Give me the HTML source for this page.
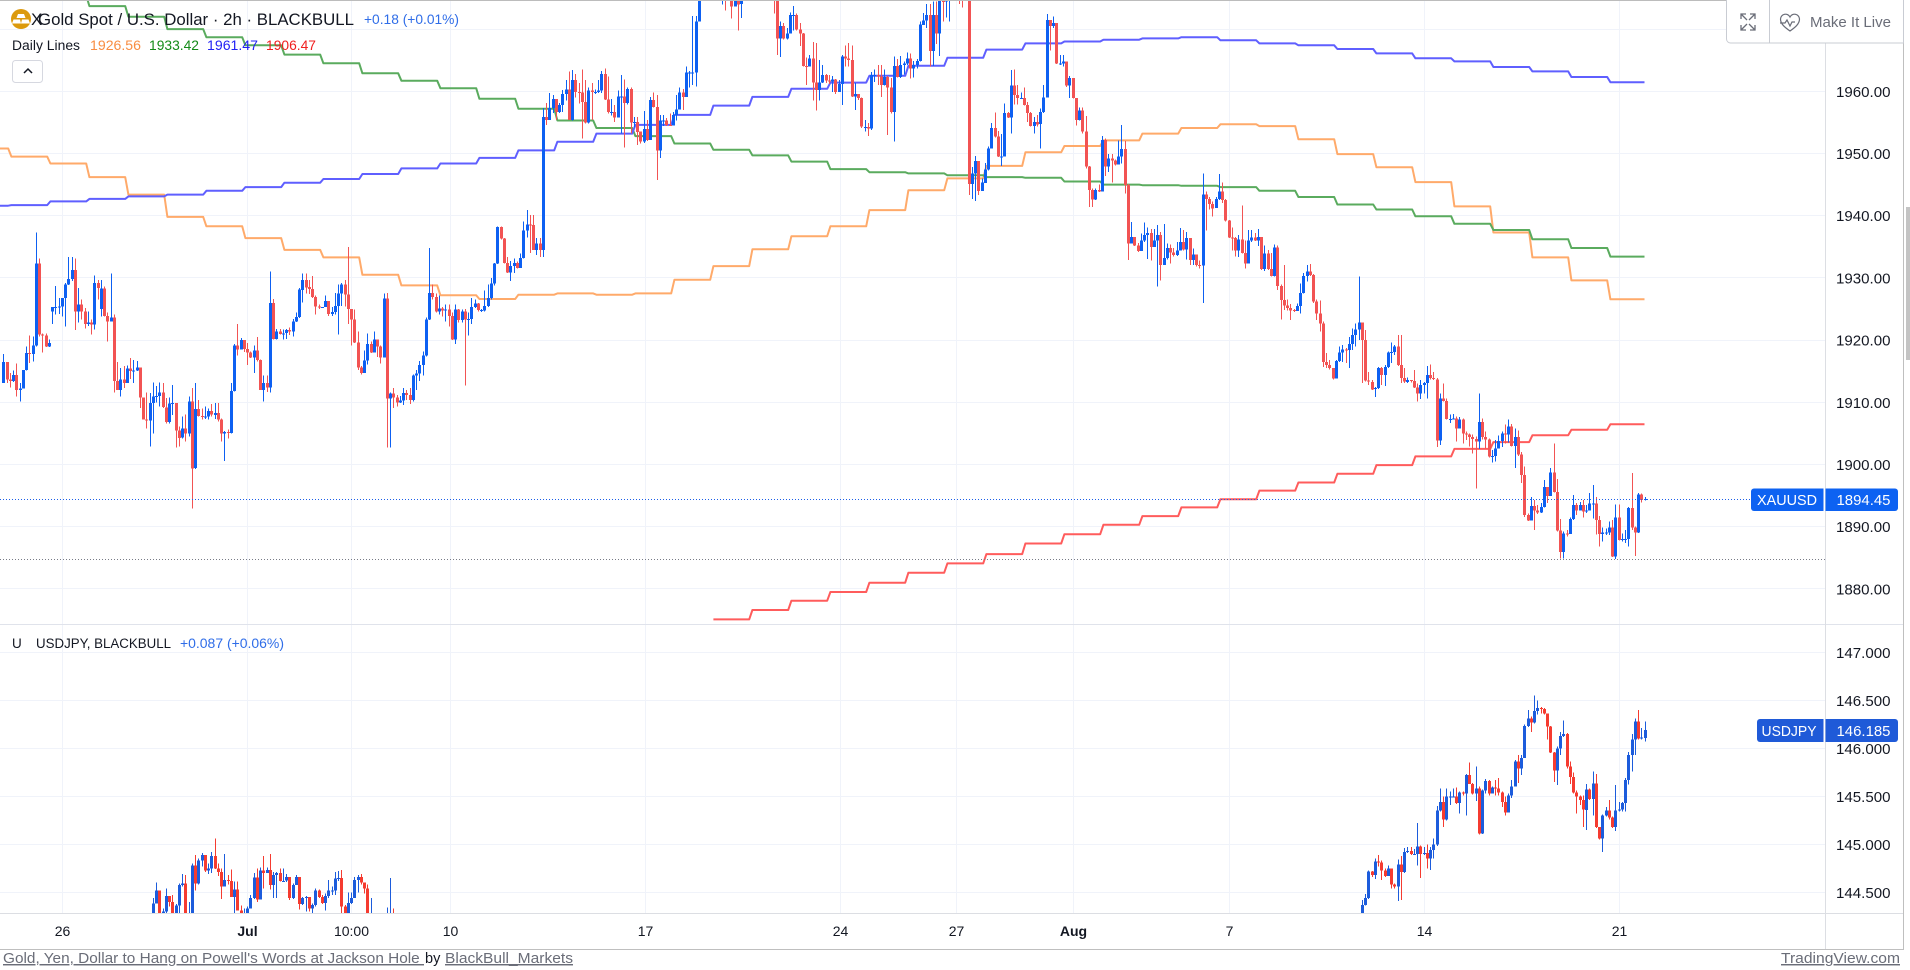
<!DOCTYPE html>
<html lang="en">
<head>
<meta charset="utf-8">
<title>Gold Spot / U.S. Dollar and USDJPY chart</title>
<style>
html,body{margin:0;padding:0;background:#fff;width:1910px;height:970px;overflow:hidden}
svg{display:block;font-family:"Liberation Sans",sans-serif}
text{white-space:pre}
</style>
</head>
<body>
<svg id="chart" xmlns="http://www.w3.org/2000/svg" width="1910" height="970" viewBox="0 0 1910 970">
  <defs>
    <clipPath id="clip-main"><rect x="0" y="0" width="1825" height="624"></rect></clipPath>
    <clipPath id="clip-sub"><rect x="0" y="625" width="1825" height="288"></rect></clipPath>
  </defs>
  <rect x="0" y="0" width="1910" height="970" fill="#ffffff"></rect>
  <g id="grid"></g>
  <g id="main-pane" clip-path="url(#clip-main)"></g>
  <g id="sub-pane" clip-path="url(#clip-sub)"></g>
  <g id="axis-labels"></g>

  <line x1="0" y1="499.5" x2="1751" y2="499.5" stroke="#1c5fe8" stroke-width="1" stroke-dasharray="1 2"></line>
  <line x1="0" y1="559.5" x2="1825" y2="559.5" stroke="#787b86" stroke-width="1" stroke-dasharray="1 2"></line>

  <line x1="0" y1="0.5" x2="1904" y2="0.5" stroke="#bcbcbc"></line>
  <line x1="0" y1="624.5" x2="1903" y2="624.5" stroke="#e0e3eb"></line>
  <line x1="0" y1="913.5" x2="1903" y2="913.5" stroke="#dcdee3"></line>
  <line x1="1825.5" y1="43" x2="1825.5" y2="949" stroke="#dcdee3"></line>
  <line x1="0" y1="949.5" x2="1904" y2="949.5" stroke="#bfbfbf"></line>
  <line x1="1903.5" y1="0" x2="1903.5" y2="950" stroke="#bfbfbf"></line>
  <rect x="1906" y="207" width="4" height="153" fill="#c4c4c4"></rect>

  <!-- main legend -->
  <g>
    <circle cx="21" cy="19" r="10" fill="#dc9a0d"></circle>
    <path d="M18 14h6l1.5 4h-9zM13.5 19.5h6.5l1 4h-9zM22 19.5h6.5l1.5 4h-9z" fill="#ffffff"></path>
    <text x="31" y="25" font-size="17" fill="#131722">X</text>
    <text x="38" y="25" font-size="17" fill="#131722" textLength="316" lengthAdjust="spacingAndGlyphs">Gold Spot / U.S. Dollar · 2h · BLACKBULL</text>
    <text x="364" y="24" font-size="14" fill="#2f6de8" textLength="95" lengthAdjust="spacingAndGlyphs">+0.18 (+0.01%)</text>
    <text x="12" y="50" font-size="13.5" fill="#131722" textLength="68" lengthAdjust="spacingAndGlyphs">Daily Lines</text>
    <text x="90" y="50" font-size="13.5" fill="#f88d42" textLength="51" lengthAdjust="spacingAndGlyphs">1926.56</text>
    <text x="149" y="50" font-size="13.5" fill="#138a17" textLength="50" lengthAdjust="spacingAndGlyphs">1933.42</text>
    <text x="207" y="50" font-size="13.5" fill="#2222f5" textLength="51" lengthAdjust="spacingAndGlyphs">1961.47</text>
    <text x="266" y="50" font-size="13.5" fill="#f01f1f" textLength="50" lengthAdjust="spacingAndGlyphs">1906.47</text>
    <rect x="12.5" y="60.5" width="30" height="22" rx="3" fill="#ffffff" stroke="#d6d8e0"></rect>
    <path d="M24 73l4-4 4 4" fill="none" stroke="#131722" stroke-width="1.5"></path>
  </g>

  <!-- sub legend -->
  <g>
    <text x="12" y="648" font-size="13.5" fill="#131722">U</text>
    <text x="36" y="648" font-size="13.5" fill="#131722" textLength="135" lengthAdjust="spacingAndGlyphs">USDJPY, BLACKBULL</text>
    <text x="180" y="648" font-size="13.5" fill="#2f6de8" textLength="104" lengthAdjust="spacingAndGlyphs">+0.087 (+0.06%)</text>
  </g>

  <!-- top right toolbar -->
  <g>
    <path d="M1726.5 0V39a4 4 0 0 0 4 4H1903.5V0" fill="#ffffff" stroke="#c9ccd3"></path>
    <line x1="1769.5" y1="0" x2="1769.5" y2="43" stroke="#c9ccd3"></line>
    <g fill="none" stroke="#6a6d78" stroke-width="1.3">
      <path d="M1741 19v-5h5M1741 14l6 6M1755 19v-5h-5M1755 14l-6 6M1741 25v5h5M1741 30l6-6M1755 25v5h-5M1755 30l-6-6"></path>
    </g>
    <g>
      <path d="M1790 31c-5-3.500-9.500-7-9.500-12a5 5 0 0 1 9.500-2a5 5 0 0 1 9.500 2c0 5-4.500 8.500-9.500 12zM1780 23h5l2-3 3 6 2-4h3" fill="none" stroke="#6a6d78" stroke-width="1.2"></path>
      <text x="1810" y="27" font-size="14.500" fill="#6a6d78" textLength="81" lengthAdjust="spacingAndGlyphs">Make It Live</text>
    </g>
  </g>

  <!-- last price tags -->
  <g>
    <path d="M1754 488.500H1823.500V511H1754a3 3 0 0 1-3-3V491.500a3 3 0 0 1 3-3z" fill="#0d62f2"></path>
    <text x="1757" y="505" font-size="14.500" fill="#ffffff" textLength="60" lengthAdjust="spacingAndGlyphs">XAUUSD</text>
    <path d="M1825.500 488.500H1895a3 3 0 0 1 3 3V508a3 3 0 0 1-3 3H1825.500z" fill="#0d62f2"></path>
    <text x="1836.500" y="505" font-size="14.500" fill="#ffffff" textLength="54" lengthAdjust="spacingAndGlyphs">1894.45</text>
  </g>
  <g>
    <path d="M1760 719H1823.500V742H1760a3 3 0 0 1-3-3V722a3 3 0 0 1 3-3z" fill="#1f5ad8"></path>
    <text x="1761.500" y="736" font-size="14.500" fill="#ffffff" textLength="55" lengthAdjust="spacingAndGlyphs">USDJPY</text>
    <path d="M1825.500 719H1895a3 3 0 0 1 3 3V739a3 3 0 0 1-3 3H1825.500z" fill="#1f5ad8"></path>
    <text x="1836.500" y="736" font-size="14.500" fill="#ffffff" textLength="54" lengthAdjust="spacingAndGlyphs">146.185</text>
  </g>

  <!-- footer -->
  <g>
    <text x="3" y="963" font-size="14.500" fill="#6a6d78" text-decoration="underline" textLength="421" lengthAdjust="spacingAndGlyphs">Gold, Yen, Dollar to Hang on Powell's Words at Jackson Hole </text>
    <text x="425" y="963" font-size="14.500" fill="#131722">by</text>
    <text x="445" y="963" font-size="14.500" fill="#6a6d78" text-decoration="underline" textLength="128" lengthAdjust="spacingAndGlyphs">BlackBull_Markets</text>
    <text x="1781" y="963" font-size="14.500" fill="#6a6d78" text-decoration="underline" textLength="119" lengthAdjust="spacingAndGlyphs">TradingView.com</text>
  </g>
</svg>

<script>
// ---------- Gold (XAUUSD) 2h candles ----------
const goldFirstOpen = 1913.1;
const goldCloses = [
1916.5,1913.7,1913.4,1914.4,1912.0,1912.2,1915.2,1917.9,1917.8,1919.1,
1932.3,1920.9,1920.7,1919.0,1919.5,1925.3,1925.3,1925.4,1926.8,1928.9,
1929.8,1931.3,1924.6,1925.7,1924.6,1922.6,1922.8,1922.5,1929.2,1928.4,
1928.3,1923.9,1923.0,1923.6,1913.4,1912.0,1913.7,1913.1,1915.4,1915.0,
1915.1,1915.6,1910.8,1907.2,1907.1,1909.9,1910.9,1911.0,1911.6,1909.2,
1906.8,1909.8,1909.9,1905.5,1904.3,1905.8,1905.0,1910.1,1899.4,1908.9,
1907.8,1907.6,1907.7,1908.6,1908.0,1908.3,1907.2,1905.0,1905.2,1905.1,
1911.8,1919.1,1918.5,1920.0,1918.6,1918.0,1917.2,1918.3,1916.8,1912.0,
1913.1,1912.4,1926.0,1920.2,1921.4,1921.0,1921.1,1921.6,1921.4,1923.0,
1923.7,1928.1,1929.7,1928.5,1928.2,1926.9,1925.4,1925.2,1925.3,1926.3,
1924.2,1924.5,1925.5,1927.5,1928.9,1927.3,1925.0,1923.3,1919.6,1915.6,
1914.7,1916.7,1919.4,1918.0,1920.1,1919.0,1917.2,1926.7,1910.6,1911.4,
1910.8,1910.0,1910.3,1911.5,1911.2,1910.4,1914.3,1914.6,1916.0,1917.5,
1923.3,1927.6,1926.9,1924.6,1925.1,1924.8,1924.9,1923.9,1920.1,1924.9,
1923.2,1924.6,1923.3,1923.4,1925.3,1925.9,1924.8,1924.8,1925.5,1926.8,
1929.1,1932.3,1938.2,1936.3,1932.4,1930.9,1931.9,1932.4,1931.6,1933.2,
1937.6,1938.6,1938.5,1934.5,1935.5,1934.5,1955.9,1955.4,1957.3,1958.8,
1956.7,1957.8,1959.6,1960.3,1955.4,1961.8,1959.9,1959.8,1958.3,1955.0,
1960.1,1959.9,1959.9,1960.1,1962.8,1958.7,1956.7,1956.7,1955.8,1959.2,
1959.2,1958.1,1960.4,1955.0,1955.1,1953.5,1951.9,1953.9,1952.2,1958.6,
1957.5,1950.5,1955.3,1955.3,1954.6,1954.5,1956.2,1957.1,1959.8,1959.1,
1963.0,1963.0,1963.0,1971.2,1976.0,1979,1981,1983,1984,1982,
1980,1980,1978,1977,1973.6,1977,1974,1976,1978,1979,
1981,1982,1980,1979,1978,1980,1979,1977.5,1968.5,1970.5,
1968.5,1969.3,1972.3,1972.3,1969.9,1969.3,1964.1,1964.0,1965.3,1961.4,
1960.2,1961.4,1962.6,1961.7,1961.6,1961.9,1959.9,1961.2,1965.6,1965.3,
1965.0,1959.2,1959.6,1958.9,1954.3,1954.3,1954.0,1962.6,1962.6,1962.4,
1961.0,1962.3,1960.6,1956.7,1964.1,1962.3,1964.2,1964.5,1965.3,1963.7,
1964.2,1964.9,1970.7,1971.4,1972.3,1966.5,1972.3,1969.3,1974.7,1974.4,
1974.9,1975.6,1977,1978,1977,1976.5,1977.5,1945.1,1946.8,1948.8,
1944.0,1945.3,1947.4,1950.8,1954.1,1952.7,1949.5,1949.5,1956.5,1955.8,
1960.9,1959.4,1958.9,1958.9,1957.8,1956.5,1954.4,1955.1,1954.7,1956.7,
1959.0,1971.5,1970.5,1971.0,1964.5,1964.5,1964.8,1960.9,1962.1,1958.9,
1955.4,1956.9,1953.5,1947.9,1944.1,1942.6,1944.1,1943.9,1952.2,1947.9,
1949.2,1948.9,1948.2,1949.5,1950.7,1944.9,1935.5,1936.6,1935.2,1934.3,
1936.0,1936.9,1937.2,1935.0,1936.0,1936.9,1932.1,1933.2,1934.8,1934.1,
1933.7,1934.4,1935.8,1934.6,1936.4,1932.9,1933.8,1932.1,1932.0,1943.4,
1942.7,1941.9,1941.2,1942.7,1943.9,1942.5,1939.2,1936.5,1936.4,1934.4,
1936.2,1934.0,1932.3,1936.0,1936.5,1936.0,1936.6,1931.4,1933.9,1931.4,
1930.3,1934.9,1928.7,1926.45,1925.6,1925.2,1924.8,1924.7,1925.5,1927.6,
1930.3,1931.0,1930.5,1926.2,1924.3,1922.7,1916.5,1916.0,1915.5,1913.8,
1916.6,1918.0,1918.5,1918.4,1919.4,1920.8,1921.7,1922.8,1920.0,1913.5,
1913.3,1912.1,1912.3,1915.5,1914.4,1915.7,1918.0,1918.1,1919.0,1916.0,
1913.9,1913.3,1913.6,1913.4,1912.4,1911.4,1912.8,1913.1,1914.4,1913.9,
1913.7,1903.9,1910.6,1910.2,1907.3,1907.3,1907.4,1905.8,1907.2,1905.0,
1904.8,1904.4,1904.1,1903.7,1906.8,1904.4,1904.0,1901.3,1901.4,1902.6,
1903.8,1905.0,1904.8,1906.1,1903.0,1904.4,1901.6,1898.3,1891.9,1891.0,
1893.3,1892.6,1892.3,1893.2,1896.4,1894.9,1898.7,1895.6,1889.4,1885.9,
1888.9,1888.8,1891.2,1893.5,1892.6,1893.5,1892.4,1892.6,1893.7,1893.7,
1891.1,1888.8,1889.1,1889.1,1889.9,1885.2,1891.5,1887.9,1888.0,1888.0,
1893.0,1889.9,1889.1,1895.2,1894.3,1894.45];
const goldHighs = [
1917.8,1916.5,1914.7,1915.1,1916.2,1913.1,1915.2,1919.0,1920.7,1920.6,
1937.3,1933.1,1921.1,1921.1,1920.1,1925.3,1928.7,1926.8,1926.8,1929.2,
1933.4,1933.4,1933.1,1928.4,1926.5,1925.2,1924.6,1923.3,1930.4,1929.7,
1929.7,1928.6,1924.4,1930.7,1924.1,1916.5,1915.5,1915.8,1915.9,1917.1,
1916.8,1916.6,1915.6,1910.8,1911.6,1911.5,1913.2,1912.6,1913.2,1913.1,
1910.7,1910.8,1912.8,1909.9,1906.1,1907.7,1908.0,1910.9,1912.3,1913.1,
1910.4,1909.0,1909.3,1909.0,1909.7,1909.9,1909.9,1907.4,1905.4,1905.6,
1913.1,1919.4,1922.6,1920.3,1919.8,1919.5,1918.2,1919.1,1920.5,1916.9,
1914.3,1914.3,1931.0,1926.6,1921.8,1921.8,1921.7,1921.8,1922.0,1923.4,
1924.4,1928.4,1930.7,1930.7,1929.7,1930.3,1927.2,1925.7,1925.3,1927.2,
1926.3,1925.3,1927.6,1928.9,1929.2,1929.7,1935.0,1925.0,1924.9,1921.4,
1915.8,1918.3,1921.1,1919.8,1921.4,1920.1,1919.1,1927.5,1927.6,1911.6,
1912.3,1911.2,1911.0,1912.3,1912.0,1912.3,1914.5,1915.2,1916.6,1918.2,
1923.6,1934.8,1928.9,1927.5,1927.2,1925.3,1925.7,1925.7,1924.4,1925.7,
1925.0,1924.9,1925.0,1924.4,1926.8,1926.5,1926.0,1925.0,1928.0,1928.9,
1930.0,1932.4,1938.3,1938.3,1936.4,1933.4,1932.7,1933.1,1932.6,1933.9,
1939.1,1940.9,1940.1,1940.1,1936.4,1936.4,1957.3,1958.1,1959.7,1959.4,
1958.8,1958.1,1960.2,1961.8,1963.2,1963.4,1962.8,1961.3,1963.5,1961.8,
1960.6,1961.3,1960.3,1961.8,1963.3,1963.7,1962.4,1958.8,1957.8,1960.1,
1962.6,1961.9,1960.6,1960.6,1955.9,1955.9,1953.5,1956.8,1955.4,1959.1,
1959.8,1959.4,1956.2,1956.2,1955.7,1956.4,1956.7,1959.4,1960.6,1960.4,
1964.0,1963.3,1972.1,1972.1,1978.0,1982,1984,1985,1986,1985,
1984,1982,1981,1980,1978,1979,1978,1978,1980,1981,
1983,1985,1984,1982,1981,1982,1981,1980,1980,1971.2,
1971.0,1970.2,1972.7,1973.7,1972.5,1971.0,1969.4,1965.4,1965.8,1967.9,
1967.8,1965.0,1964.2,1962.8,1962.6,1962.5,1962.0,1961.8,1965.8,1967.4,
1967.8,1967.4,1961.3,1959.6,1959.0,1955.4,1954.9,1963.1,1963.5,1964.2,
1964.2,1963.5,1962.5,1962.1,1965.6,1965.2,1965.7,1964.8,1966.2,1966.1,
1964.9,1965.2,1971.2,1972.6,1974.0,1974.0,1974.4,1974.4,1975.8,1976,
1976,1977,1980,1981,1980,1979,1980,1980,1947.8,1949.6,
1948.8,1946.0,1948.5,1951.1,1954.9,1956.6,1953.6,1953.1,1958.0,1956.7,
1963.4,1963.5,1961.0,1959.8,1960.6,1958.3,1956.7,1955.9,1956.2,1957.2,
1961.0,1972.4,1971.5,1972.0,1971.0,1965.8,1965.8,1964.1,1962.5,1962.1,
1958.9,1957.4,1957.4,1956.0,1948.0,1944.4,1944.4,1945.0,1952.8,1952.4,
1949.9,1949.9,1949.0,1952.1,1954.6,1952.0,1945.1,1939.0,1936.6,1935.6,
1937.1,1938.9,1938.1,1937.9,1937.9,1938.5,1937.4,1938.7,1935.5,1935.4,
1934.8,1935.8,1938.0,1937.7,1937.4,1936.4,1934.7,1933.6,1932.8,1946.8,
1943.9,1943.0,1942.3,1943.0,1946.7,1945.3,1942.7,1939.3,1938.1,1936.6,
1936.9,1941.6,1936.0,1937.7,1937.7,1937.2,1937.9,1936.6,1935.2,1934.5,
1934.0,1935.4,1935.2,1928.9,1932.1,1926.5,1925.8,1925.0,1925.9,1929.1,
1930.8,1932.1,1932.2,1930.6,1926.5,1926.4,1923.0,1917.9,1916.8,1915.5,
1916.8,1919.0,1919.2,1918.7,1920.5,1921.9,1922.7,1930.2,1922.8,1921.6,
1914.9,1913.6,1912.5,1915.7,1915.7,1916.0,1918.2,1919.6,1919.2,1920.8,
1920.8,1915.5,1914.0,1913.6,1915.2,1913.0,1913.6,1913.3,1915.8,1916.1,
1914.9,1913.9,1911.4,1913.0,1910.6,1908.0,1908.1,1907.7,1907.6,1907.4,
1905.3,1905.0,1904.8,1904.5,1911.4,1907.4,1905.3,1904.2,1902.3,1903.9,
1904.7,1905.3,1906.4,1907.2,1906.5,1905.8,1905.5,1902.0,1899.7,1892.1,
1894.8,1894.3,1893.5,1893.8,1897.5,1896.4,1899.4,1903.4,1897.7,1891.2,
1889.2,1889.5,1891.5,1895.1,1893.8,1894.0,1894.3,1893.5,1895.4,1896.7,
1894.8,1891.7,1889.9,1889.7,1890.8,1891.1,1893.6,1893.6,1888.9,1889.5,
1893.2,1898.6,1890.0,1895.4,1895.3,1894.8];
const goldLows = [
1913.1,1913.1,1912.4,1913.3,1910.9,1910.1,1912.2,1915.1,1916.3,1916.6,
1919.0,1920.6,1918.0,1918.9,1918.9,1922.6,1924.1,1924.2,1923.8,1922.2,
1929.5,1929.5,1921.6,1922.8,1923.3,1921.9,1922.3,1920.9,1921.7,1926.5,
1923.8,1923.8,1919.8,1923.0,1911.6,1912.0,1910.9,1912.3,1913.2,1913.7,
1913.1,1915.0,1909.1,1907.2,1905.8,1902.9,1905.0,1910.0,1909.3,1909.1,
1906.6,1906.6,1908.0,1902.7,1902.9,1904.2,1903.7,1904.5,1892.9,1899.3,
1907.7,1907.2,1907.3,1907.2,1907.7,1907.3,1906.9,1903.7,1900.6,1904.2,
1905.0,1911.7,1917.5,1918.5,1918.1,1916.0,1917.1,1914.7,1916.6,1912.0,
1910.1,1911.7,1911.6,1920.1,1920.1,1920.9,1920.1,1920.2,1920.8,1920.6,
1922.9,1923.6,1926.0,1927.5,1927.4,1926.8,1924.1,1925.0,1925.2,1925.4,
1923.9,1923.9,1924.1,1920.9,1925.5,1925.4,1922.6,1919.1,1919.5,1915.2,
1914.5,1914.7,1916.1,1917.9,1918.0,1917.3,1916.2,1917.2,1902.7,1902.7,
1909.1,1909.3,1909.9,1909.6,1910.4,1909.7,1910.1,1912.0,1913.4,1914.3,
1917.4,1923.2,1926.5,1924.4,1924.1,1923.8,1923.0,1922.2,1920.0,1919.4,
1922.8,1922.8,1912.7,1920.7,1922.6,1925.2,1924.6,1924.5,1924.6,1925.3,
1926.5,1928.8,1932.2,1936.2,1932.3,1930.8,1929.5,1930.8,1931.5,1932.2,
1933.1,1936.5,1934.0,1934.5,1933.7,1933.4,1933.4,1954.6,1955.4,1956.5,
1955.4,1956.5,1956.7,1958.5,1955.4,1955.3,1959.0,1958.0,1952.4,1954.8,
1954.8,1955.4,1959.6,1959.7,1959.7,1958.6,1956.4,1956.1,1955.1,1955.8,
1953.2,1951.0,1957.9,1953.2,1954.2,1951.4,1951.6,1951.7,1952.0,1952.2,
1957.4,1945.7,1949.3,1954.4,1954.4,1954.4,1954.5,1955.3,1957.1,1957.0,
1959.1,1960.6,1961.0,1960.8,1971.2,1975,1978,1980,1981,1980,
1976,1974.0,1973.0,1975,1971.7,1973.6,1969.8,1971.8,1975.5,1977,
1978,1980,1978,1977,1976,1977,1976,1972.5,1965.8,1965.5,
1968.3,1968.3,1969.3,1969.8,1969.8,1967.3,1964.0,1961.0,1964.0,1958.5,
1956.9,1958.5,1961.3,1961.3,1961.2,1959.9,1959.6,1959.9,1957.8,1964.0,
1964.0,1959.1,1957.0,1958.6,1954.1,1953.5,1952.8,1953.8,1961.5,1961.0,
1959.1,1960.9,1953.0,1956.4,1951.9,1962.2,1962.1,1962.7,1964.2,1962.1,
1962.2,1963.7,1964.8,1970.7,1970.2,1964.0,1964.1,1967.6,1965.7,1971.2,
1971.9,1971.2,1975,1976,1974,1973.5,1975,1943.3,1942.7,1942.4,
1943.3,1944.0,1945.5,1947.3,1950.8,1952.6,1949.4,1948.0,1951.6,1955.7,
1953.2,1957.9,1957.9,1958.8,1957.7,1955.1,1954.3,1953.2,1954.3,1950.8,
1956.5,1959.0,1966.6,1970.2,1964.4,1964.2,1964.0,1960.7,1958.9,1958.8,
1954.5,1955.3,1953.2,1947.6,1941.4,1941.4,1942.5,1943.8,1944.7,1946.4,
1947.0,1945.3,1948.1,1948.2,1948.4,1943.6,1932.9,1935.5,1935.1,1934.2,
1934.3,1935.8,1933.0,1932.8,1935.0,1928.6,1929.6,1932.1,1933.0,1932.3,
1933.4,1933.5,1934.4,1934.4,1933.0,1932.1,1932.1,1931.8,1931.5,1926.0,
1937.6,1941.0,1939.9,1941.2,1942.5,1942.0,1939.1,1936.4,1934.4,1933.4,
1933.4,1933.9,1931.5,1932.3,1935.8,1935.9,1935.1,1931.3,1931.1,1931.3,
1930.2,1930.2,1928.1,1923.3,1924.8,1924.8,1923.2,1924.5,1924.7,1924.3,
1927.5,1929.4,1930.3,1926.0,1923.2,1921.4,1915.7,1915.5,1915.3,1913.7,
1914.4,1916.5,1916.5,1916.3,1915.5,1918.4,1919.0,1920.0,1913.1,1913.3,
1912.8,1912.0,1910.9,1912.1,1912.8,1912.6,1915.5,1916.3,1917.6,1915.8,
1913.1,1913.1,1913.1,1913.2,1912.3,1910.1,1910.5,1911.4,1910.6,1913.7,
1913.6,1902.8,1903.1,1910.1,1907.2,1906.7,1907.2,1903.7,1905.8,1903.4,
1903.9,1902.9,1901.8,1896.1,1902.5,1904.0,1902.6,1901.1,1900.3,1900.5,
1902.6,1902.8,1903.4,1903.5,1902.9,1899.4,1901.4,1897.0,1891.6,1890.9,
1891.7,1889.5,1892.0,1892.2,1893.1,1893.8,1894.9,1895.5,1889.2,1884.9,
1884.9,1888.4,1889.1,1891.1,1891.9,1892.6,1891.5,1892.2,1892.6,1891.3,
1888.7,1886.8,1887.6,1888.7,1888.7,1885.1,1884.8,1887.8,1887.6,1887.4,
1886.8,1889.5,1885.3,1889.0,1893.9,1894.2];
// bars whose open gapped away from the previous close
const goldGapBars = [15, 30];
const goldGapOpens = [1924.6, 1925.0];

// ---------- Daily Lines indicator: one value per trading day ----------
const dailyOrange = [1950.8,1949.5,1948.4,1946.2,1943.4,1939.8,1938.3,1936.4,1934.5,1933.3,1930.5,1928.8,1927.2,1926.6,1927.3,1927.5,1927.3,1927.5,1929.7,1931.9,1934.6,1936.7,1938.3,1940.9,1944.1,1946.0,1948.0,1950.2,1951.2,1952.1,1953.2,1954.1,1954.7,1954.4,1952.3,1949.9,1947.8,1945.4,1941.5,1937.3,1933.3,1929.6,1926.56];
const dailyGreen = [1977.4,1976.6,1975.4,1973.7,1972.0,1970.0,1968.7,1967.4,1965.9,1964.5,1962.9,1961.7,1960.5,1958.8,1957.2,1955.3,1954.1,1952.8,1951.6,1950.6,1949.7,1948.7,1947.5,1947.0,1946.8,1946.5,1946.2,1946.1,1945.5,1945.0,1944.9,1944.8,1944.6,1944.0,1943.0,1941.8,1941.0,1939.9,1938.7,1937.7,1936.2,1934.8,1933.42];
const dailyBlue = [1941.6,1941.7,1942.3,1942.7,1943.1,1943.4,1944.0,1944.6,1945.3,1945.9,1946.7,1947.6,1948.4,1949.3,1950.5,1951.9,1953.2,1954.6,1956.2,1957.7,1959.1,1960.4,1961.4,1962.5,1964.1,1965.4,1966.7,1967.7,1968.0,1968.3,1968.5,1968.7,1968.2,1967.7,1967.4,1966.8,1966.1,1965.3,1964.8,1963.9,1963.2,1962.3,1961.47];
const dailyRed = [null,null,null,null,null,null,null,null,null,null,null,null,null,null,null,null,null,null,null,1875.1,1876.6,1878.1,1879.5,1881.0,1882.6,1884.1,1885.6,1887.3,1888.8,1890.3,1891.7,1893.1,1894.4,1895.8,1897.1,1898.5,1899.9,1901.3,1902.5,1903.6,1904.7,1905.6,1906.47];

// ---------- USDJPY candles: only the runs that rise into the visible pane ----------
const jpyEarlyFirstBar = 46;
const jpyEarlyFirstOpen = 144.0;
const jpyEarlyCloses = [144.385,144.52,144.28,144.30,144.46,144.4,144.28,144.36,144.575,144.59,144.24,144.24,144.78,144.59,144.83,144.89,144.725,144.75,144.88,144.75,144.71,144.56,144.63,144.62,144.45,144.53,144.31,144.27,144.27,144.33,144.44,144.655,144.425,144.725,144.70,144.73,144.575,144.68,144.70,144.62,144.62,144.66,144.44,144.575,144.66,144.38,144.44,144.45,144.33,144.37,144.52,144.45,144.39,144.46,144.52,144.52,144.645,144.65,144.35,144.27,144.39,144.44,144.63,144.66,144.6,144.54,144.27,144.28,144.2,144.15,144.1,144.15,144.2,144.25,144.2];
const jpyEarlyHighs = [144.44,144.6,144.52,144.33,144.54,144.45,144.47,144.38,144.59,144.69,144.68,144.4,144.8,144.89,144.85,144.91,144.89,144.8,144.92,145.06,144.8,144.75,144.9,144.68,144.74,144.61,144.61,144.36,144.33,144.35,144.47,144.7,144.75,144.76,144.88,144.76,144.9,144.71,144.71,144.75,144.75,144.69,144.66,144.59,144.68,144.66,144.45,144.46,144.45,144.385,144.54,144.53,144.47,144.49,144.63,144.56,144.71,144.72,144.73,144.37,144.5,144.5,144.66,144.68,144.69,144.59,144.58,144.44,144.25,144.2,144.18,144.2,144.34,144.65,144.33];
const jpyEarlyLows = [144.1,144.385,144.25,144.2,144.25,144.35,144.25,144.25,144.25,144.56,144.2,144.2,144.2,144.52,144.58,144.77,144.71,144.69,144.7,144.74,144.67,144.43,144.56,144.58,144.45,144.28,144.31,144.2,144.2,144.2,144.33,144.43,144.4,144.43,144.54,144.7,144.53,144.44,144.44,144.61,144.62,144.61,144.42,144.43,144.575,144.32,144.37,144.3,144.3,144.28,144.35,144.44,144.38,144.31,144.44,144.47,144.47,144.62,144.28,144.26,144.26,144.38,144.44,144.5,144.58,144.49,144.25,144.24,144.0,144.0,144.0,144.0,144.0,144.1,144.1];
const jpyLateFirstOpen = 144.2;
const jpyLateCloses = [144.37,144.44,144.715,144.68,144.82,144.81,144.725,144.67,144.75,144.58,144.56,144.79,144.71,144.92,144.93,144.9,144.9,144.975,144.9,144.91,144.85,144.94,145.0,145.35,145.44,145.26,145.5,145.5,145.5,145.43,145.54,145.53,145.72,145.63,145.53,145.58,145.11,145.56,145.66,145.53,145.59,145.58,145.54,145.44,145.33,145.51,145.6,145.86,145.79,145.9,146.23,146.31,146.27,146.39,146.42,146.41,146.36,146.225,145.955,145.77,146.0,146.13,146.15,145.81,145.7,145.54,145.5,145.46,145.36,145.57,145.47,145.635,145.18,145.06,145.3,145.35,145.28,145.18,145.35,145.36,145.43,145.67,145.93,146.09,146.28,146.1,146.11,146.19];
const jpyLateHighs = [144.42,144.48,144.725,144.72,144.85,144.89,144.83,144.75,144.78,144.75,144.59,144.84,144.88,144.96,144.97,144.97,144.95,145.22,144.99,144.97,145.0,144.97,145.06,145.4,145.58,145.5,145.58,145.55,145.58,145.59,145.55,145.55,145.73,145.85,145.64,145.81,145.6,145.57,145.68,145.67,145.6,145.67,145.69,145.55,145.5,145.53,145.67,145.88,145.93,145.93,146.25,146.4,146.33,146.55,146.5,146.43,146.42,146.36,146.23,145.96,146.02,146.17,146.29,146.16,145.86,145.75,145.56,145.51,145.51,145.63,145.58,145.76,145.73,145.18,145.31,145.39,145.46,145.29,145.62,145.44,145.44,145.69,145.96,146.15,146.31,146.4,146.21,146.28];
const jpyLateLows = [144.2,144.36,144.43,144.66,144.64,144.77,144.63,144.66,144.67,144.54,144.54,144.41,144.42,144.7,144.91,144.89,144.89,144.78,144.65,144.89,144.75,144.73,144.85,144.98,145.34,145.18,145.25,145.41,145.49,145.42,145.32,145.51,145.3,145.63,145.52,145.45,145.1,145.11,145.53,145.51,145.53,145.51,145.51,145.39,145.3,145.33,145.48,145.6,145.64,145.72,145.9,146.22,146.17,146.26,146.35,146.36,146.35,146.09,145.95,145.65,145.62,145.93,146.12,145.79,145.63,145.53,145.32,145.41,145.18,145.15,145.46,145.3,145.17,145.05,144.92,145.29,145.26,145.17,145.14,145.34,145.34,145.34,145.62,145.76,145.93,146.09,146.09,146.07];

// ---------- Axis ticks ----------
const goldGridTicks = [1970,1960,1950,1940,1930,1920,1910,1900,1890,1880];
const goldTickLabels = ["1960.00","1950.00","1940.00","1930.00","1920.00","1910.00","1900.00","1890.00","1880.00"];
const jpyTickValues = [147,146.5,146,145.5,145,144.5];
const jpyTickLabels = ["147.000","146.500","146.000","145.500","145.000","144.500"];
const timeTickBars = [18,75,107,137.5,197.5,257.5,293,329,377,437,497];
const timeTickLabels = ["26","Jul","10:00","10","17","24","27","Aug","7","14","21"];
const timeTickBold = ["Jul","Aug"];

// ---------- Axis functions ----------
const SVG_NS = "http://www.w3.org/2000/svg";
const barStep = 3.25;
const barOrigin = 3.3;
function xAt(bar) { return barOrigin + bar * barStep; }
function yGold(p) { return 91.3 + (1960 - p) * 6.22; }
function yJpy(p) { return 652.3 + (147 - p) * 96; }
const barsPerDay = 12;
const firstDayBar = -9.5;
const mainPane = document.getElementById("main-pane");
const subPane = document.getElementById("sub-pane");
const grid = document.getElementById("grid");
const axisLabels = document.getElementById("axis-labels");

// ---------- Grid and axis labels ----------
goldGridTicks.forEach(function (t) {
  const y = Math.floor(yGold(t)) + 0.5;
  const l = document.createElementNS(SVG_NS, "line");
  
  
  l.setAttribute("x1", 0); l.setAttribute("x2", 1825);
  l.setAttribute("y1", y); l.setAttribute("y2", y);
  l.setAttribute("stroke", "#f0f3fa");
  grid.appendChild(l);
});
jpyTickValues.forEach(function (t, i) {
  const y = Math.floor(yJpy(t)) + 0.5;
  const l = document.createElementNS(SVG_NS, "line");
  
  
  l.setAttribute("x1", 0); l.setAttribute("x2", 1825);
  l.setAttribute("y1", y); l.setAttribute("y2", y);
  l.setAttribute("stroke", "#f0f3fa");
  grid.appendChild(l);
  const tx = document.createElementNS(SVG_NS, "text");
  
  
  tx.setAttribute("x", 1836); tx.setAttribute("y", yJpy(t) + 5.5);
  tx.setAttribute("font-size", "14.5"); tx.setAttribute("fill", "#131722");
  tx.setAttribute("textLength", "54.5"); tx.setAttribute("lengthAdjust", "spacingAndGlyphs");
  tx.textContent = jpyTickLabels[i];
  axisLabels.appendChild(tx);
});
goldTickLabels.forEach(function (label) {
  const tx = document.createElementNS(SVG_NS, "text");
  
  
  tx.setAttribute("x", 1836); tx.setAttribute("y", yGold(parseFloat(label)) + 5.5);
  tx.setAttribute("font-size", "14.5"); tx.setAttribute("fill", "#131722");
  tx.setAttribute("textLength", "54.5"); tx.setAttribute("lengthAdjust", "spacingAndGlyphs");
  tx.textContent = label;
  axisLabels.appendChild(tx);
});
timeTickBars.forEach(function (bar, i) {
  const x = Math.round(xAt(bar)) + 0.5;
  const l = document.createElementNS(SVG_NS, "line");
  
  
  l.setAttribute("x1", x); l.setAttribute("x2", x);
  l.setAttribute("y1", 0); l.setAttribute("y2", 913);
  l.setAttribute("stroke", "#f0f3fa");
  grid.appendChild(l);
  const tx = document.createElementNS(SVG_NS, "text");
  
  
  tx.setAttribute("x", x); tx.setAttribute("y", 936);
  tx.setAttribute("font-size", "14"); tx.setAttribute("fill", "#131722");
  tx.setAttribute("text-anchor", "middle");
  if (timeTickBold.indexOf(timeTickLabels[i]) >= 0) tx.setAttribute("font-weight", "bold");
  tx.textContent = timeTickLabels[i];
  axisLabels.appendChild(tx);
});

// ---------- Daily lines ----------
function stepPath(values) {
  let d = "";
  values.forEach(function (v, k) {
    if (v === null) return;
    const start = firstDayBar + k * barsPerDay;
    const end = Math.min(start + barsPerDay - 1, goldCloses.length - 1);
    const from = Math.max(start, -1);
    d += (d ? "L" : "M") + xAt(from).toFixed(1) + " " + yGold(v).toFixed(1);
    d += "L" + xAt(end).toFixed(1) + " " + yGold(v).toFixed(1);
  });
  return d;
}
function addDailyLine(values, color) {
  const p = document.createElementNS(SVG_NS, "path");
  
  
  p.setAttribute("d", stepPath(values));
  p.setAttribute("fill", "none");
  p.setAttribute("stroke", color);
  p.setAttribute("stroke-width", "2");
  p.setAttribute("stroke-linejoin", "round");
  mainPane.appendChild(p);
}
addDailyLine(dailyOrange, "#ffaa6a");
addDailyLine(dailyGreen, "#5aab5e");
addDailyLine(dailyBlue, "#5f5fff");
addDailyLine(dailyRed, "#ff5c5c");

// ---------- Candles ----------
function drawCandle(parent, bar, open, close, high, low, yFn, upColor, downColor) {
  const color = close >= open ? upColor : downColor;
  const cx = Math.round(xAt(bar));
  const hi = Math.max(high, open, close);
  const lo = Math.min(low, open, close);
  const wick = document.createElementNS(SVG_NS, "rect");
  
  
  wick.setAttribute("x", cx);
  wick.setAttribute("y", yFn(hi).toFixed(1));
  wick.setAttribute("width", 1);
  wick.setAttribute("height", Math.max(1, yFn(lo) - yFn(hi)).toFixed(1));
  wick.setAttribute("fill", color);
  wick.setAttribute("shape-rendering", "crispEdges");
  parent.appendChild(wick);
  const top = yFn(Math.max(open, close));
  const bottom = yFn(Math.min(open, close));
  const body = document.createElementNS(SVG_NS, "rect");
  
  
  body.setAttribute("x", cx - 1);
  body.setAttribute("y", top.toFixed(1));
  body.setAttribute("width", 3);
  body.setAttribute("height", Math.max(1, bottom - top).toFixed(1));
  body.setAttribute("fill", color);
  body.setAttribute("shape-rendering", "crispEdges");
  parent.appendChild(body);
}
goldCloses.forEach(function (c, i) {
  const gap = goldGapBars.indexOf(i);
  const open = gap >= 0 ? goldGapOpens[gap] : (i === 0 ? goldFirstOpen : goldCloses[i - 1]);
  drawCandle(mainPane, i, open, c, goldHighs[i], goldLows[i], yGold, "#0d60f2", "#f25353");
});
jpyEarlyCloses.forEach(function (c, i) {
  const open = i === 0 ? jpyEarlyFirstOpen : jpyEarlyCloses[i - 1];
  drawCandle(subPane, jpyEarlyFirstBar + i, open, c, jpyEarlyHighs[i], jpyEarlyLows[i], yJpy, "#1c5cdc", "#f53b30");
});
const jpyLateFirstBar = goldCloses.length - jpyLateCloses.length;
jpyLateCloses.forEach(function (c, i) {
  const open = i === 0 ? jpyLateFirstOpen : jpyLateCloses[i - 1];
  drawCandle(subPane, jpyLateFirstBar + i, open, c, jpyLateHighs[i], jpyLateLows[i], yJpy, "#1c5cdc", "#f53b30");
});
</script>
</body>
</html>
